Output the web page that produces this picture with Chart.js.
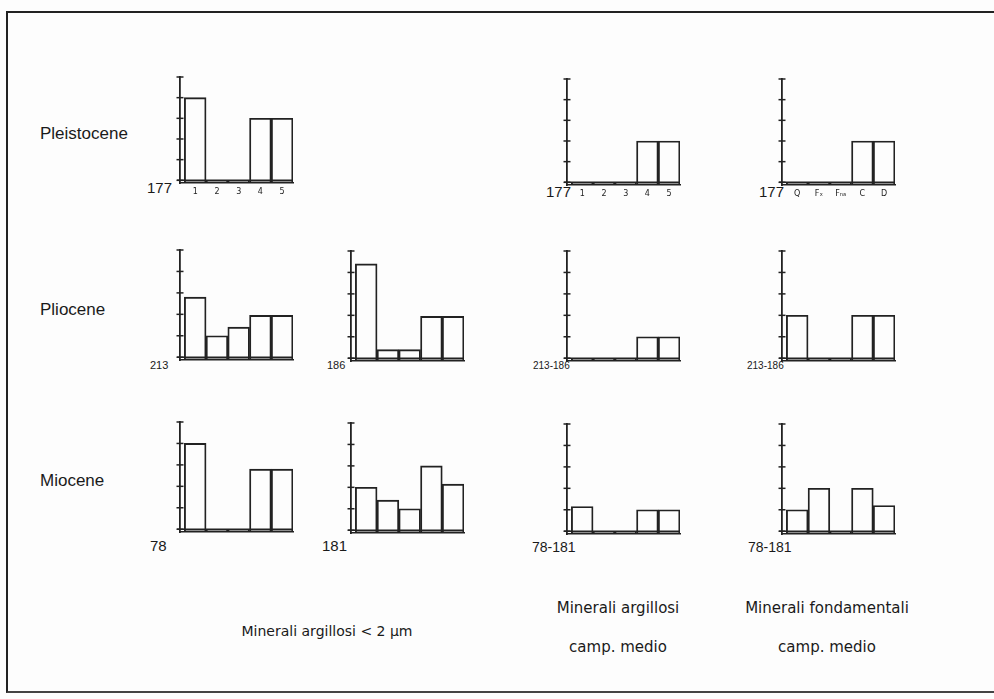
<!DOCTYPE html>
<html>
<head>
<meta charset="utf-8">
<script src="https://cdn.jsdelivr.net/npm/chart.js@4/dist/chart.umd.min.js"></script>
<style>
    html, body { margin: 0; padding: 0; background: #fdfdfd; }
    #pagina { position: relative; width: 994px; height: 699px; overflow: hidden; background: #fdfdfd; }
    #cornice { position: absolute; left: 6px; top: 11px; width: 1000px; height: 678px;
               border-left: 2px solid #222; border-top: 2px solid #222; border-bottom: 2px solid #444; }
    canvas { position: absolute; }
    .testo { position: absolute; color: #1a1a1a; white-space: nowrap; }
    .era { font-family: "Liberation Sans", Arial, sans-serif; font-size: 17px; }
    .camp { font-family: "Liberation Sans", Arial, sans-serif; }
    .didascalia { font-family: "DejaVu Sans", sans-serif; font-size: 15px; transform: translateX(-50%); }
</style>
</head>
<body>
<div id="pagina">
    <div id="cornice"></div>
</div>
<script>
// ===============================
// Dati
// ===============================
const kategorieNumeri = ['1', '2', '3', '4', '5'];
const kategorieFondamentali = ['Q', 'Fₓ', 'Fₙₐ', 'C', 'D'];
const yTicks = [0, 1, 2, 3, 4, 5];

const pleistocene177 = [4, 0, 0, 3, 3];
const pleistoceneArgMedio = [0, 0, 0, 2, 2];
const pleistoceneFondMedio = [0, 0, 0, 2, 2];

const pliocene213 = [2.8, 1.0, 1.4, 1.95, 1.95];
const pliocene186 = [4.4, 0.4, 0.4, 1.95, 1.95];
const plioceneArgMedio = [0, 0, 0, 1, 1];
const plioceneFondMedio = [2, 0, 0, 2, 2];

const miocene78 = [4, 0, 0, 2.8, 2.8];
const miocene181 = [2.0, 1.4, 1.0, 3.0, 2.15];
const mioceneArgMedio = [1.15, 0, 0, 1, 1];
const mioceneFondMedio = [1, 2, 0, 2, 1.2];

const base = -0.13;
const colore = '#222';

// ===============================
// Pannelli (posizione asse y e linea zero)
// ===============================
const pannelli = [
    { dati: pleistocene177, asseX: 180, zeroY: 184, etichette: kategorieNumeri },
    { dati: pleistoceneArgMedio, asseX: 567, zeroY: 186, etichette: kategorieNumeri },
    { dati: pleistoceneFondMedio, asseX: 782, zeroY: 186, etichette: kategorieFondamentali },
    { dati: pliocene213, asseX: 180, zeroY: 357, etichette: null },
    { dati: pliocene186, asseX: 351, zeroY: 358, etichette: null },
    { dati: plioceneArgMedio, asseX: 567, zeroY: 358, etichette: null },
    { dati: plioceneFondMedio, asseX: 782, zeroY: 358, etichette: null },
    { dati: miocene78, asseX: 180, zeroY: 529, etichette: null },
    { dati: miocene181, asseX: 351, zeroY: 530, etichette: null },
    { dati: mioceneArgMedio, asseX: 567, zeroY: 531, etichette: null },
    { dati: mioceneFondMedio, asseX: 782, zeroY: 531, etichette: null }
];

// ===============================
// Testi
// ===============================
const testi = [
    { t: 'Pleistocene', c: 'era', x: 40, y: 124 },
    { t: 'Pliocene', c: 'era', x: 40, y: 300 },
    { t: 'Miocene', c: 'era', x: 40, y: 471 },
    { t: '177', c: 'camp', x: 147, y: 179, s: 15 },
    { t: '177', c: 'camp', x: 546, y: 183, s: 15 },
    { t: '177', c: 'camp', x: 759, y: 183, s: 15 },
    { t: '213', c: 'camp', x: 150, y: 359, s: 11 },
    { t: '186', c: 'camp', x: 327, y: 359, s: 11 },
    { t: '213-186', c: 'camp', x: 533, y: 360, s: 10 },
    { t: '213-186', c: 'camp', x: 747, y: 360, s: 10 },
    { t: '78', c: 'camp', x: 150, y: 537, s: 15 },
    { t: '181', c: 'camp', x: 322, y: 537, s: 15 },
    { t: '78-181', c: 'camp', x: 532, y: 539, s: 14 },
    { t: '78-181', c: 'camp', x: 748, y: 539, s: 14 },
    { t: 'Minerali argillosi < 2 μm', c: 'didascalia', x: 327, y: 623, s: 14 },
    { t: 'Minerali argillosi', c: 'didascalia', x: 618, y: 599 },
    { t: 'camp. medio', c: 'didascalia', x: 618, y: 638 },
    { t: 'Minerali fondamentali', c: 'didascalia', x: 827, y: 599 },
    { t: 'camp. medio', c: 'didascalia', x: 827, y: 638 }
];

const pagina = document.getElementById('pagina');

testi.forEach(item => {
    const el = document.createElement('div');
    el.className = 'testo ' + item.c;
    el.textContent = item.t;
    el.style.left = item.x + 'px';
    el.style.top = item.y + 'px';
    if (item.s) el.style.fontSize = item.s + 'px';
    pagina.appendChild(el);
});

// ===============================
// Plugin: tacche a croce e linea dello zero
// ===============================
const taccheAsse = {
    id: 'taccheAsse',
    afterDatasetsDraw(chart) {
        const ctx = chart.ctx;
        const y = chart.scales.y;
        const area = chart.chartArea;
        ctx.save();
        ctx.strokeStyle = colore;
        ctx.lineWidth = 1.5;
        y.ticks.forEach(t => {
            const py = y.getPixelForValue(t.value);
            ctx.beginPath();
            ctx.moveTo(area.left - 3.5, py);
            ctx.lineTo(area.left + 3.5, py);
            ctx.stroke();
        });
        const p0 = y.getPixelForValue(0);
        ctx.beginPath();
        ctx.moveTo(area.left - 3, p0);
        ctx.lineTo(area.right, p0);
        ctx.stroke();
        ctx.restore();
    }
};

// ===============================
// Grafici
// ===============================
const LARGHEZZA = 123;
const ALTEZZA = 131;

pannelli.forEach(p => {
    const canvas = document.createElement('canvas');
    canvas.width = LARGHEZZA;
    canvas.height = ALTEZZA;
    canvas.style.left = (p.asseX - 5) + 'px';
    canvas.style.top = Math.round(p.zeroY - 112.4) + 'px';
    pagina.appendChild(canvas);

    const conEtichette = !!p.etichette;

    new Chart(canvas.getContext('2d'), {
        type: 'bar',
        data: {
            datasets: [{
                data: p.dati.map((v, i) => ({ x: i + 0.5, y: [base, v] })),
                backgroundColor: 'rgba(0,0,0,0)',
                borderColor: colore,
                borderWidth: 1.2,
                borderSkipped: false,
                barPercentage: 1,
                categoryPercentage: 1
            }]
        },
        options: {
            responsive: false,
            animation: false,
            layout: { padding: { left: 5, right: 5, top: 5, bottom: conEtichette ? 2.4 : 16 } },
            plugins: { legend: { display: false }, tooltip: { enabled: false } },
            scales: {
                x: {
                    type: 'linear',
                    min: -0.2,
                    max: 5,
                    offset: false,
                    afterBuildTicks: scale => {
                        scale.ticks = kategorieNumeri.map((_, i) => ({ value: i + 0.5 }));
                    },
                    ticks: {
                        display: conEtichette,
                        autoSkip: false,
                        maxRotation: 0,
                        padding: 4,
                        color: colore,
                        font: { family: 'DejaVu Sans', size: 8 },
                        callback: (val, i) => conEtichette ? p.etichette[i] : ''
                    },
                    grid: { display: false, drawTicks: false, offset: false },
                    border: { display: true, color: colore, width: 1.4 }
                },
                y: {
                    min: base,
                    max: 5,
                    afterBuildTicks: scale => {
                        scale.ticks = yTicks.map(v => ({ value: v }));
                    },
                    ticks: { display: false },
                    grid: { drawOnChartArea: false, drawTicks: false },
                    border: { display: true, color: colore, width: 1.8 }
                }
            }
        },
        plugins: [taccheAsse]
    });
});
</script>
</body>
</html>
